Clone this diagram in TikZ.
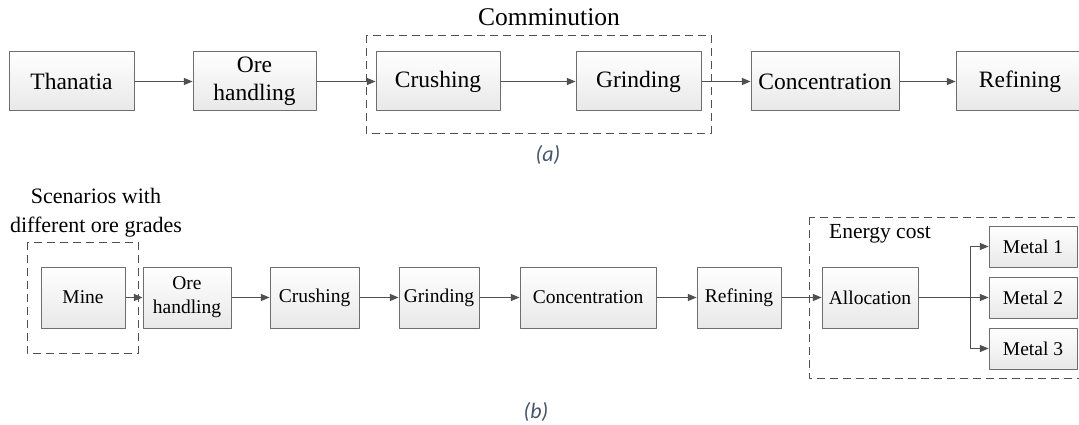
\documentclass[tikz,border=0pt]{standalone}
\usepackage{fontspec}
\setmainfont{Liberation Serif}
\newfontfamily\capfont{Carlito}
\usetikzlibrary{arrows}
\definecolor{linegray}{HTML}{505050}
\definecolor{boxgray}{HTML}{6E6E6E}
\definecolor{capblue}{HTML}{44546A}
\tikzset{
  box/.style={draw=boxgray,line width=1pt,top color=white,bottom color=black!9,
    inner sep=0pt,align=center,minimum height=59pt},
  smallbox/.style={box,minimum height=61pt},
  metalbox/.style={box,minimum height=41pt,minimum width=88pt},
  grp/.style={draw=linegray,line width=0.9pt,dash pattern=on 8pt off 5pt},
  flow/.style={draw=linegray,line width=1pt,->},
  subcap/.style={text=capblue,font=\capfont\itshape\fontsize{22}{26}\selectfont}
}
\begin{document}
\begin{tikzpicture}[x=1pt,y=-1pt,>=triangle 45,line join=round]
\useasboundingbox (0,0) rectangle (1079,425);
% (a)
\begin{scope}[every node/.append style={font=\fontsize{23.5}{28}\selectfont}]
\draw[grp] (366,35) rectangle (711,133);
\node[font=\fontsize{25.5}{30}\selectfont] (comminution) at (549,17) {Comminution};
\node[box,minimum width=125pt] (thanatia) at (71.5,81.5) {Thanatia};
\node[box,minimum width=123pt] (orehandling) at (254.5,81.5) {Ore\\handling};
\node[box,minimum width=124pt] (crushing) at (438,81.5) {Crushing};
\node[box,minimum width=125pt] (grinding) at (638.5,81.5) {Grinding};
\node[box,minimum width=148pt] (concentration) at (825,81.5) {Concentration};
\node[box,minimum width=128pt] (refining) at (1020,81.5) {Refining};
\end{scope}
\draw[flow] (thanatia) -- (orehandling);
\draw[flow] (orehandling) -- (crushing);
\draw[flow] (crushing) -- (grinding);
\draw[flow] (grinding) -- (concentration);
\draw[flow] (concentration) -- (refining);
\node[subcap] (capa) at (548,155) {(a)};
% (b)
\begin{scope}[every node/.append style={font=\fontsize{19.5}{24}\selectfont}]
\draw[grp] (27,242) rectangle (138,353);
\draw[grp] (809,217) rectangle (1080,378);
\node[font=\fontsize{22}{29}\selectfont,align=center] (scenarios) at (96,213) {Scenarios with\\different ore grades};
\node[font=\fontsize{21.5}{26}\selectfont] (energycost) at (880,234) {Energy cost};
\node[smallbox,minimum width=84pt] (mine) at (83,297.5) {Mine};
\node[smallbox,minimum width=88pt] (orehandlingb) at (187,297.5) {Ore\\handling};
\node[smallbox,minimum width=89pt] (crushingb) at (314.5,297.5) {Crushing};
\node[smallbox,minimum width=80pt] (grindingb) at (439,297.5) {Grinding};
\node[smallbox,minimum width=136pt] (concentrationb) at (588,297.5) {Concentration};
\node[smallbox,minimum width=84pt] (refiningb) at (739,297.5) {Refining};
\node[smallbox,minimum width=96pt] (allocation) at (870,297.5) {Allocation};
\node[metalbox] (metala) at (1033,246.5) {Metal 1};
\node[metalbox] (metalb) at (1033,297.5) {Metal 2};
\node[metalbox] (metalc) at (1033,348.5) {Metal 3};
\end{scope}
\coordinate (branch) at (970,297.5);
\draw[flow] (mine) -- (orehandlingb);
\draw[flow] (orehandlingb) -- (crushingb);
\draw[flow] (crushingb) -- (grindingb);
\draw[flow] (grindingb) -- (concentrationb);
\draw[flow] (concentrationb) -- (refiningb);
\draw[flow] (refiningb) -- (allocation);
\draw[flow] (allocation) -- (metalb);
\draw[flow] (branch) |- (metala);
\draw[flow] (branch) |- (metalc);
\node[subcap] (capb) at (536,412) {(b)};
\end{tikzpicture}
\end{document}
